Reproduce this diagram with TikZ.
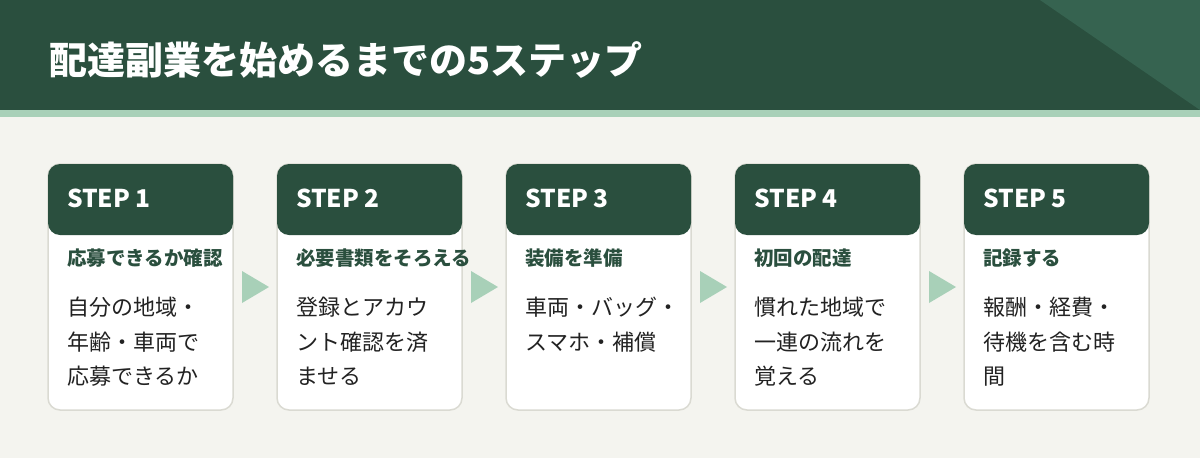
\documentclass[tikz,border=0pt]{standalone}
\usepackage{fontspec}
\setmainfont{Noto Sans CJK JP}
\usetikzlibrary{positioning}
\usetikzlibrary{calc}

\definecolor{deepgreen}{HTML}{2A4F3E}
\definecolor{cornergreen}{HTML}{366350}
\definecolor{palegreen}{HTML}{A8D0B8}
\definecolor{paper}{HTML}{F4F4EF}
\definecolor{cardline}{HTML}{DADAD2}
\definecolor{bodyink}{HTML}{222222}

\begin{document}
\begin{tikzpicture}[x=1pt,y=-1pt,
        card/.style={draw=cardline, line width=1.5pt, fill=white, rounded corners=12pt,
                minimum width=185pt, minimum height=246pt, inner sep=0pt, outer sep=0pt},
        head/.style={fill=deepgreen, rounded corners=12pt, minimum width=185pt,
                minimum height=71pt, inner sep=0pt, outer sep=0pt, anchor=north west},
        steplabel/.style={text=white, font=\fontsize{24.5}{24.5}\selectfont\bfseries, inner sep=0pt},
        subtitle/.style={text=deepgreen, font=\fontsize{19.5}{19.5}\selectfont\bfseries, inner sep=0pt, anchor=west},
        bodytext/.style={text=bodyink, font=\fontsize{22}{34.5}\selectfont, align=left, inner sep=0pt, anchor=north west},
        nextstep/.style={fill=palegreen}]
        % Canvas
        \useasboundingbox (0,0) rectangle (1200,458);
        \fill[paper] (0,0) rectangle (1200,458);

        % Banner
        \fill[deepgreen] (0,0) rectangle (1200,110);
        \fill[cornergreen] (1040,0) -- (1200,0) -- (1200,110) -- cycle;
        \fill[palegreen] (0,110) rectangle (1200,117);
        \node[text=white, font=\fontsize{38}{38}\selectfont\bfseries, anchor=west, inner sep=0pt] (title) at (49,60) {配達副業を始めるまでの5ステップ};

        % Cards
        \node[card, anchor=north west] (card1) at (48,164) {};
        \node[card, right=44pt of card1] (card2) {};
        \node[card, right=44pt of card2] (card3) {};
        \node[card, right=44pt of card3] (card4) {};
        \node[card, right=44pt of card4] (card5) {};

        \node[head] (head1) at (card1.north west) {};
        \node[head] (head2) at (card2.north west) {};
        \node[head] (head3) at (card3.north west) {};
        \node[head] (head4) at (card4.north west) {};
        \node[head] (head5) at (card5.north west) {};

        \node[steplabel, right=19pt of head1.west, yshift=1.5pt] (step1) {STEP 1};
        \node[steplabel, right=19pt of head2.west, yshift=1.5pt] (step2) {STEP 2};
        \node[steplabel, right=19pt of head3.west, yshift=1.5pt] (step3) {STEP 3};
        \node[steplabel, right=19pt of head4.west, yshift=1.5pt] (step4) {STEP 4};
        \node[steplabel, right=19pt of head5.west, yshift=1.5pt] (step5) {STEP 5};

        \node[subtitle] (sub1) at ($(card1.north west)+(19,94)$) {応募できるか確認};
        \node[subtitle] (sub2) at ($(card2.north west)+(19,94)$) {必要書類をそろえる};
        \node[subtitle] (sub3) at ($(card3.north west)+(19,94)$) {装備を準備};
        \node[subtitle] (sub4) at ($(card4.north west)+(19,94)$) {初回の配達};
        \node[subtitle] (sub5) at ($(card5.north west)+(19,94)$) {記録する};

        \node[bodytext] (body1) at ($(card1.north west)+(19,133)$) {自分の地域・\\年齢・車両で\\応募できるか};
        \node[bodytext] (body2) at ($(card2.north west)+(19,133)$) {登録とアカウ\\ント確認を済\\ませる};
        \node[bodytext] (body3) at ($(card3.north west)+(19,133)$) {車両・バッグ・\\スマホ・補償};
        \node[bodytext] (body4) at ($(card4.north west)+(19,133)$) {慣れた地域で\\一連の流れを\\覚える};
        \node[bodytext] (body5) at ($(card5.north west)+(19,133)$) {報酬・経費・\\待機を含む時\\間};

        % Arrows between the steps
        \coordinate (gap1) at ($(card1.east)!0.5!(card2.west)$);
        \coordinate (gap2) at ($(card2.east)!0.5!(card3.west)$);
        \coordinate (gap3) at ($(card3.east)!0.5!(card4.west)$);
        \coordinate (gap4) at ($(card4.east)!0.5!(card5.west)$);
        \fill[nextstep] ([shift={(-13,-16)}]gap1) -- ([shift={(14,0)}]gap1) -- ([shift={(-13,16)}]gap1) -- cycle;
        \fill[nextstep] ([shift={(-13,-16)}]gap2) -- ([shift={(14,0)}]gap2) -- ([shift={(-13,16)}]gap2) -- cycle;
        \fill[nextstep] ([shift={(-13,-16)}]gap3) -- ([shift={(14,0)}]gap3) -- ([shift={(-13,16)}]gap3) -- cycle;
        \fill[nextstep] ([shift={(-13,-16)}]gap4) -- ([shift={(14,0)}]gap4) -- ([shift={(-13,16)}]gap4) -- cycle;
      \end{tikzpicture}
\end{document}
